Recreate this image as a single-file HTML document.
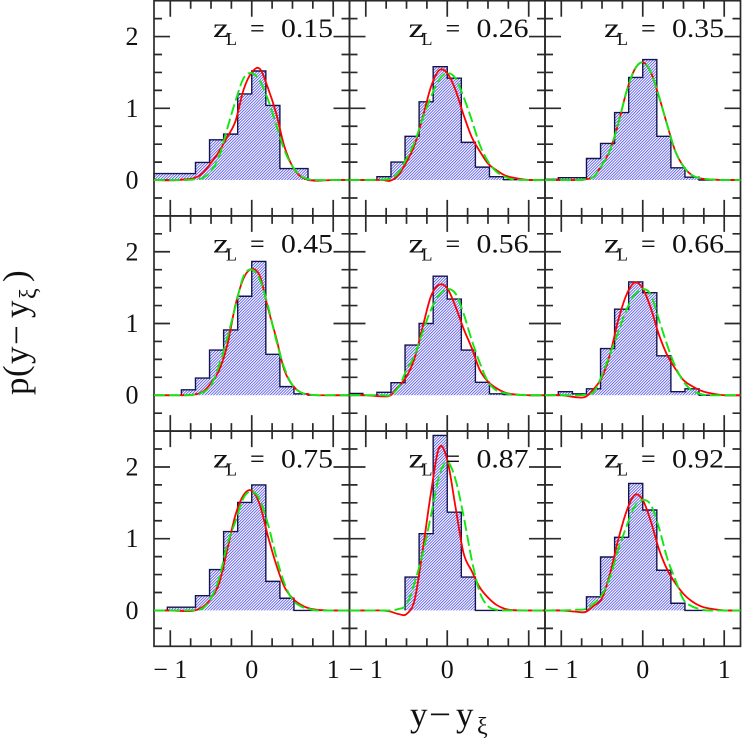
<!DOCTYPE html>
<html>
<head>
<meta charset="utf-8">
<title>p(y - y_xi) histograms</title>
<style>
html,body{margin:0;padding:0;background:#fff;}
svg{display:block;}
text{font-family:"Liberation Serif","DejaVu Serif",serif;fill:#111;}
</style>
</head>
<body>
<svg id="chart" width="742" height="741" viewBox="0 0 742 741" xmlns="http://www.w3.org/2000/svg">
<defs>
<pattern id="hatch" patternUnits="userSpaceOnUse" width="2" height="2" patternTransform="rotate(-45)">
<rect width="2" height="2" fill="#ffffff"/>
<rect width="2" height="0.7" fill="#3030e8"/>
</pattern>
</defs>
<text y="726" font-size="35"><tspan x="410">y</tspan><tspan x="429" y="726" textLength="22" lengthAdjust="spacingAndGlyphs">−</tspan><tspan x="456" y="726">y</tspan><tspan x="477" y="734" font-size="24">ξ</tspan></text>
<g transform="translate(28,395) rotate(-90)">
<text font-size="35"><tspan x="0" y="0">p</tspan><tspan x="18" y="-1">(</tspan><tspan x="31" y="0">y</tspan><tspan x="50" y="0">−</tspan><tspan x="77" y="0">y</tspan><tspan x="96" y="8" font-size="24">ξ</tspan><tspan x="113" y="-1">)</tspan></text>
</g>
</svg>
<script>
// Panel titles
var redshifts = ['0.15','0.26','0.35','0.45','0.56','0.66','0.75','0.87','0.92'];
// Histogram first bin index (in bin widths from zero)
var histStart = [-7,-5,-7,-5,-7,-6,-6,-3,-4];
// Histogram heights per panel
var hist1 = [0.09,0.09,0.09,0.245,0.56,0.64,1.2,1.52,1.04,0.16,0.16,0];
var hist2 = [0.047,0.25,0.61,1.09,1.58,1.42,0.525,0.18,0.047,0.005];
var hist3 = [0.01,0.033,0.033,0.30,0.51,0.94,1.43,1.68,0.61,0.17,0.04,0];
var hist4 = [0.075,0.24,0.63,0.91,1.38,1.865,0.57,0.12,0.02,0];
var hist5 = [0.025,0,0.04,0.175,0.70,1.0,1.66,1.34,0.63,0.18,0.02,0.01];
var hist6 = [0.05,0.02,0.09,0.65,1.2,1.58,1.43,0.55,0.05,0.09,0];
var hist7 = [0.045,0.045,0.205,0.57,1.1,1.505,1.75,0.405,0.17,0,0];
var hist8 = [0.465,1.07,2.44,1.37,0.465,0,0,0];
var hist9 = [0.19,0.745,1.02,1.77,1.40,0.56,0.10,0,0];
var histograms = [hist1,hist2,hist3,hist4,hist5,hist6,hist7,hist8,hist9];
// Bin width in data units
var binWidth = 0.1727;
// Sample abscissae shared by the model curves
var curveX = [-1.2,-1,-0.8,-0.7,-0.6,-0.5,-0.4,-0.3,-0.2,-0.1,0,0.1,0.2,0.3,0.4,0.5,0.6,0.7,0.8,1,1.2];
// Red (solid) curves
var red1 = [0,-0.005,0.01,0.03,0.1,0.24,0.40,0.6,0.82,1.26,1.5,1.55,1.28,0.93,0.47,0.19,0.05,0,-0.01,0,0];
var red2 = [0,0,0,-0.01,0.07,0.25,0.49,0.88,1.3,1.53,1.49,1.26,0.91,0.6,0.4,0.23,0.14,0.07,0.035,0,0];
var red3 = [0,0,0,0.01,0.05,0.21,0.42,0.79,1.23,1.54,1.64,1.5,1.16,0.77,0.4,0.19,0.07,0.025,0.01,0,0];
var red4 = [0,0,0,0.01,0.05,0.17,0.35,0.7,1.26,1.63,1.76,1.66,1.21,0.8,0.35,0.14,0.04,0.01,0,0,0];
var red5 = [0,0,-0.015,-0.005,0.12,0.26,0.52,0.96,1.38,1.54,1.49,1.24,0.93,0.66,0.35,0.19,0.1,0.04,0.015,0,0];
var red6 = [0,0,-0.03,-0.02,0.09,0.25,0.58,1.05,1.4,1.57,1.49,1.21,0.84,0.56,0.37,0.21,0.13,0.07,0.035,0,0];
var red7 = [0,0,-0.01,0,0.05,0.17,0.38,0.85,1.33,1.61,1.67,1.47,1.03,0.64,0.33,0.17,0.08,0.03,0.01,0,0];
var red8 = [0,0,0,-0.015,-0.05,-0.05,0.15,0.85,1.64,2.27,2.1,1.45,0.8,0.55,0.32,0.18,0.08,0.025,0.005,0,0];
var red9 = [0,0,-0.02,-0.02,0.065,0.17,0.52,0.99,1.38,1.61,1.54,1.24,0.85,0.57,0.38,0.23,0.13,0.065,0.03,0,0];
var redCurves = [red1,red2,red3,red4,red5,red6,red7,red8,red9];
// Green (dashed) curves
var green1 = [0,0,0,0.01,0.03,0.12,0.33,0.72,1.1,1.42,1.49,1.38,1.12,0.77,0.42,0.19,0.06,0.01,0,0,0];
var green2 = [0,0,0.005,0.02,0.1,0.3,0.53,0.86,1.16,1.4,1.49,1.42,1.16,0.84,0.49,0.26,0.12,0.05,0.01,0,0];
var green3 = [0,0,0,0.01,0.05,0.21,0.42,0.79,1.23,1.54,1.64,1.5,1.16,0.77,0.4,0.19,0.07,0.025,0.01,0,0];
var green4 = [0,0,0,0.01,0.04,0.14,0.42,0.8,1.24,1.66,1.75,1.61,1.24,0.77,0.38,0.14,0.04,0.01,0,0,0];
var green5 = [0,0,0,0,0.11,0.35,0.56,0.89,1.19,1.4,1.48,1.42,1.14,0.77,0.45,0.19,0.07,0.03,0.01,0,0];
var green6 = [0,0,0,0.01,0.05,0.28,0.58,0.88,1.19,1.4,1.48,1.4,1.05,0.7,0.4,0.19,0.07,0.02,0,0,0];
var green7 = [0,0,0,0.005,0.03,0.17,0.45,0.92,1.24,1.57,1.66,1.54,1.2,0.75,0.38,0.15,0.06,0.02,0,0,0];
var green8 = [0,0,0,0,0.02,0.08,0.39,0.8,1.32,1.87,2.07,1.83,1.32,0.71,0.25,0.06,0.01,0,0,0,0];
var green9 = [0,0,0.01,0.02,0.1,0.22,0.47,0.85,1.17,1.45,1.54,1.47,1.15,0.73,0.43,0.15,0.06,0.02,0,0,0];
var greenCurves = [green1,green2,green3,green4,green5,green6,green7,green8,green9];
// Axis tick values
var xTicks = [-1,-0.75,-0.5,-0.25,0,0.25,0.5,0.75,1];
var yTicks = [-0.25,0,0.25,0.5,0.75,1,1.25,1.5,1.75,2,2.25];
var xTickLabels = [-1,0,1];
var yTickLabels = [0,1,2];

var NS = 'http://www.w3.org/2000/svg';
var svg = document.getElementById('chart');
var defs = svg.querySelector('defs');
var PANEL_W = 195.5, PANEL_H = 215.2, LEFT = 154, TOP = 0.7;
var X_MIN = -1.2, X_MAX = 1.2, Y_MIN = -0.5, Y_MAX = 2.5;

function make(tag, attrs, parent) {
  var el = document.createElementNS(NS, tag);
  for (var k in attrs) { el.setAttribute(k, attrs[k]); }
  (parent || svg).appendChild(el);
  return el;
}
function panelLeft(col) { return LEFT + col * PANEL_W; }
function panelTop(row) { return TOP + row * PANEL_H; }
function xScale(col, v) { return panelLeft(col) + (v - X_MIN) / (X_MAX - X_MIN) * PANEL_W; }
function yScale(row, v) { return panelTop(row) + (Y_MAX - v) / (Y_MAX - Y_MIN) * PANEL_H; }

function curvePath(col, row, ys) {
  var pts = curveX.map(function (x, i) { return [xScale(col, x), yScale(row, ys[i])]; });
  var d = 'M' + pts[0][0].toFixed(2) + ' ' + pts[0][1].toFixed(2);
  for (var i = 0; i < pts.length - 1; i++) {
    var p0 = pts[Math.max(0, i - 1)], p1 = pts[i], p2 = pts[i + 1], p3 = pts[Math.min(pts.length - 1, i + 2)];
    var c1x = p1[0] + (p2[0] - p0[0]) / 6, c1y = p1[1] + (p2[1] - p0[1]) / 6;
    var c2x = p2[0] - (p3[0] - p1[0]) / 6, c2y = p2[1] - (p3[1] - p1[1]) / 6;
    d += 'C' + c1x.toFixed(2) + ' ' + c1y.toFixed(2) + ' ' + c2x.toFixed(2) + ' ' + c2y.toFixed(2) + ' ' + p2[0].toFixed(2) + ' ' + p2[1].toFixed(2);
  }
  return d;
}
function histPaths(col, row, values, start) {
  var y0 = yScale(row, 0);
  var xa = Math.max(xScale(col, start * binWidth), panelLeft(col));
  var line = 'M' + xa.toFixed(2) + ' ' + y0.toFixed(2);
  values.forEach(function (v, i) {
    var x1 = Math.max(xScale(col, (start + i) * binWidth), panelLeft(col));
    var x2 = xScale(col, (start + i + 1) * binWidth);
    line += 'L' + x1.toFixed(2) + ' ' + yScale(row, v).toFixed(2) + 'L' + x2.toFixed(2) + ' ' + yScale(row, v).toFixed(2);
  });
  var xb = xScale(col, (start + values.length) * binWidth);
  return { line: line, fill: line + 'L' + xb.toFixed(2) + ' ' + y0.toFixed(2) + 'Z' };
}

function drawPanel(index) {
  var col = index % 3, row = Math.floor(index / 3);
  var g = make('g', {});
  
  

  var clip = make('clipPath', { id: 'clip' + index }, defs);
  make('rect', { x: panelLeft(col), y: panelTop(row), width: PANEL_W, height: PANEL_H }, clip);

  var h = histPaths(col, row, histograms[index], histStart[index]);
  var fill = make('path', { d: h.fill, fill: 'url(#hatch)', stroke: 'none' }, g);
  
  
  var outline = make('path', { d: h.line, fill: 'none', stroke: '#15154d', 'stroke-width': 1.4 }, g);
  
  

  var axes = make('g', { stroke: '#2a2a2a', 'stroke-width': 1.7, fill: 'none' }, g);
  
  
  make('rect', { x: panelLeft(col), y: panelTop(row), width: PANEL_W, height: PANEL_H }, axes);
  var d = '';
  var top = panelTop(row), bottom = top + PANEL_H, left = panelLeft(col), right = left + PANEL_W;
  xTicks.forEach(function (v) {
    var len = Number.isInteger(v) ? 16 : 8;
    var x = xScale(col, v).toFixed(2);
    d += 'M' + x + ' ' + top + 'v' + len + 'M' + x + ' ' + bottom + 'v' + (-len);
  });
  yTicks.forEach(function (v) {
    var len = Number.isInteger(v) ? 16 : 8;
    var y = yScale(row, v).toFixed(2);
    d += 'M' + left + ' ' + y + 'h' + len + 'M' + right + ' ' + y + 'h' + (-len);
  });
  make('path', { d: d }, axes);

  var redLine = make('path', { d: curvePath(col, row, redCurves[index]), fill: 'none', stroke: '#ff0000', 'stroke-width': 1.8, 'clip-path': 'url(#clip' + index + ')' }, g);
  
  
  var greenLine = make('path', { d: curvePath(col, row, greenCurves[index]), fill: 'none', stroke: '#10e810', 'stroke-width': 1.9, 'stroke-dasharray': '11 4', 'clip-path': 'url(#clip' + index + ')' }, g);
  
  

  var label = make('g', {}, g);
  
  
  var base = top + 36.4;
  var z = make('text', { x: left + 59, y: base, 'font-size': 27, textLength: 16, lengthAdjust: 'spacingAndGlyphs' }, label);
  z.textContent = 'z';
  var sub = make('text', { x: left + 72, y: base + 8, 'font-size': 18 }, label);
  sub.textContent = 'L';
  var eq = make('text', { x: left + 96, y: base, 'font-size': 26 }, label);
  eq.textContent = '=';
  var val = make('text', { x: left + 127, y: base, 'font-size': 26, textLength: 52, lengthAdjust: 'spacingAndGlyphs' }, label);
  val.textContent = redshifts[index];
}

for (var p = 0; p < 9; p++) { drawPanel(p); }

for (var r = 0; r < 3; r++) {
  yTickLabels.forEach(function (v) {
    var t = make('text', { x: 132, y: yScale(r, v) + 8.5, 'font-size': 26, 'text-anchor': 'middle' });
    
    
    t.textContent = String(v);
  });
}
for (var c = 0; c < 3; c++) {
  xTickLabels.forEach(function (v) {
    var t = make('text', { x: xScale(c, v), y: 678, 'font-size': 26, 'text-anchor': 'middle' });
    
    
    t.textContent = v < 0 ? '− ' + Math.abs(v) : String(v);
  });
}
</script>
</body>
</html>
